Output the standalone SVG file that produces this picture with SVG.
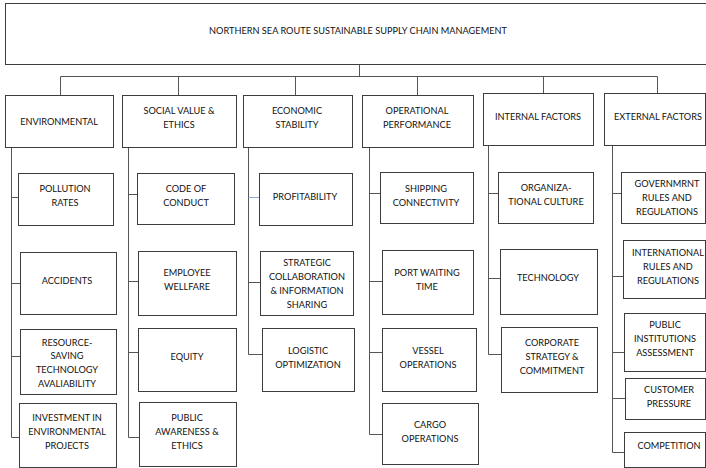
<svg xmlns="http://www.w3.org/2000/svg" width="706" height="468" viewBox="0 0 706 468">
<style>
rect{fill:#fff;stroke:#3c3c3c;stroke-width:1}
text{font-family:Lato,"Liberation Sans",sans-serif;font-size:9.2px;fill:#111;text-anchor:middle}
.c{fill:none;stroke:#555;stroke-width:1}
</style>
<rect x="0" y="0" width="706" height="468" style="stroke:none"/>
<g id="connectors">
<path class="c" d="M359.5 64V76.5M60.5 76.5H657.5M60.5 76.5V95M178.5 76.5V95M295.5 76.5V95M417.5 76.5V95M543.5 76.5V93M657.5 76.5V93"/>
<path class="c" d="M11.5 147V437.5H19M11.5 197.5H18M11.5 283.5H20M11.5 356.5H20"/>
<path class="c" d="M128.5 147V437.5H139M128.5 194.5H137M128.5 281.5H138M128.5 352.5H138"/>
<path class="c" d="M248.5 147V354.5H262M248.5 282.5H260"/>
<path d="M248.5 197.5H259" style="fill:none;stroke:#8fa8d8;stroke-width:1"/>
<path class="c" d="M369.5 147V434.5H382M369.5 193.5H380M369.5 281.5H382M369.5 352.5H382"/>
<path class="c" d="M488.5 145V354.5H501M488.5 193.5H498M488.5 278.5H500"/>
<path class="c" d="M612.5 145V452.5H624M612.5 193.5H621M612.5 276.5H623M612.5 352.5H624M612.5 398.5H625"/>
</g>
<g id="root"><rect x="5.5" y="3.5" width="705" height="61"/><text x="358" y="33.5">NORTHERN SEA ROUTE SUSTAINABLE SUPPLY CHAIN MANAGEMENT</text></g>
<g id="environmental"><rect x="5.5" y="95.5" width="108" height="52"/><text x="59" y="124.5">ENVIRONMENTAL</text></g>
<g id="social"><rect x="122.5" y="95.5" width="114" height="52"/><text x="179" y="113.5">SOCIAL VALUE &amp;</text><text x="179" y="127.5">ETHICS</text></g>
<g id="economic"><rect x="243.5" y="95.5" width="109" height="52"/><text x="297" y="113.5">ECONOMIC</text><text x="297" y="127.5">STABILITY</text></g>
<g id="operational"><rect x="362.5" y="95.5" width="111" height="52"/><text x="417" y="113.5">OPERATIONAL</text><text x="417" y="127.5">PERFORMANCE</text></g>
<g id="internal"><rect x="483.5" y="93.5" width="110" height="52"/><text x="538" y="119.5">INTERNAL FACTORS</text></g>
<g id="external"><rect x="604.5" y="93.5" width="101" height="52"/><text x="658" y="119.5">EXTERNAL FACTORS</text></g>
<g id="pollution"><rect x="18.5" y="173.5" width="95" height="52"/><text x="65" y="191.5">POLLUTION</text><text x="65" y="205.5">RATES</text></g>
<g id="accidents"><rect x="20.5" y="252.5" width="96" height="62"/><text x="67" y="283.5">ACCIDENTS</text></g>
<g id="resource"><rect x="20.5" y="329.5" width="96" height="65"/><text x="67" y="345.5">RESOURCE-</text><text x="67" y="358.5">SAVING</text><text x="67" y="372.5">TECHNOLOGY</text><text x="67" y="386.5">AVALIABILITY</text></g>
<g id="investment"><rect x="19.5" y="403.5" width="97" height="64"/><text x="67" y="420.5">INVESTMENT IN</text><text x="67" y="434.5">ENVIRONMENTAL</text><text x="67" y="448.5">PROJECTS</text></g>
<g id="code"><rect x="137.5" y="173.5" width="97" height="51"/><text x="186" y="191.5">CODE OF</text><text x="186" y="205.5">CONDUCT</text></g>
<g id="employee"><rect x="138.5" y="251.5" width="98" height="64"/><text x="187" y="275.5">EMPLOYEE</text><text x="187" y="289.5">WELLFARE</text></g>
<g id="equity"><rect x="138.5" y="328.5" width="98" height="63"/><text x="187" y="359.5">EQUITY</text></g>
<g id="public-awareness"><rect x="139.5" y="402.5" width="97" height="64"/><text x="187" y="420.5">PUBLIC</text><text x="187" y="434.5">AWARENESS &amp;</text><text x="187" y="448.5">ETHICS</text></g>
<g id="profitability"><rect x="259.5" y="173.5" width="93" height="52"/><text x="305" y="199.5">PROFITABILITY</text></g>
<g id="strategic"><rect x="260.5" y="251.5" width="93" height="64"/><text x="307" y="265.5">STRATEGIC</text><text x="307" y="279.5">COLLABORATION</text><text x="307" y="293.5">&amp; INFORMATION</text><text x="307" y="307.5">SHARING</text></g>
<g id="logistic"><rect x="262.5" y="328.5" width="92" height="63"/><text x="308" y="353.5">LOGISTIC</text><text x="308" y="367.5">OPTIMIZATION</text></g>
<g id="shipping"><rect x="380.5" y="172.5" width="93" height="51"/><text x="426" y="191.5">SHIPPING</text><text x="426" y="205.5">CONNECTIVITY</text></g>
<g id="port"><rect x="382.5" y="250.5" width="91" height="64"/><text x="427" y="275.5">PORT WAITING</text><text x="427" y="289.5">TIME</text></g>
<g id="vessel"><rect x="382.5" y="328.5" width="94" height="63"/><text x="428" y="353.5">VESSEL</text><text x="428" y="367.5">OPERATIONS</text></g>
<g id="cargo"><rect x="382.5" y="403.5" width="96" height="61"/><text x="430" y="427.5">CARGO</text><text x="430" y="441.5">OPERATIONS</text></g>
<g id="organizational"><rect x="498.5" y="172.5" width="95" height="51"/><text x="546" y="190.5">ORGANIZA-</text><text x="546" y="204.5">TIONAL CULTURE</text></g>
<g id="technology"><rect x="500.5" y="249.5" width="97" height="65"/><text x="548" y="280.5">TECHNOLOGY</text></g>
<g id="corporate"><rect x="501.5" y="327.5" width="96" height="65"/><text x="552" y="345.5">CORPORATE</text><text x="552" y="359.5">STRATEGY &amp;</text><text x="552" y="373.5">COMMITMENT</text></g>
<g id="government"><rect x="621.5" y="172.5" width="84" height="51"/><text x="667" y="186.5">GOVERNMRNT</text><text x="667" y="200.5">RULES AND</text><text x="667" y="214.5">REGULATIONS</text></g>
<g id="international"><rect x="623.5" y="240.5" width="82" height="58"/><text x="668" y="255.5">INTERNATIONAL</text><text x="668" y="269.5">RULES AND</text><text x="668" y="283.5">REGULATIONS</text></g>
<g id="public-institutions"><rect x="624.5" y="313.5" width="81" height="58"/><text x="665" y="327.5">PUBLIC</text><text x="665" y="341.5">INSTITUTIONS</text><text x="665" y="355.5">ASSESSMENT</text></g>
<g id="customer"><rect x="625.5" y="378.5" width="80" height="41"/><text x="669" y="392.5">CUSTOMER</text><text x="669" y="406.5">PRESSURE</text></g>
<g id="competition"><rect x="624.5" y="432.5" width="81" height="35"/><text x="669" y="448.5">COMPETITION</text></g>
</svg>
